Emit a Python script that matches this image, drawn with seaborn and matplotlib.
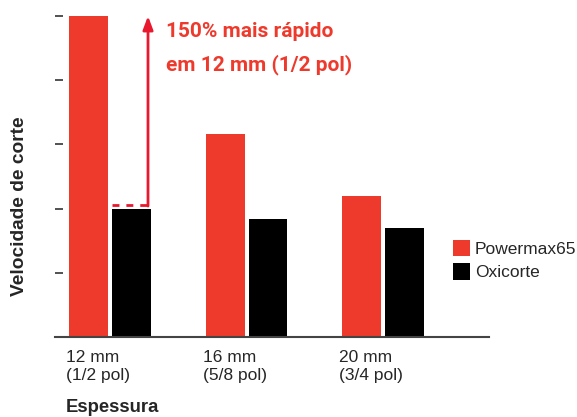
import numpy as np
import pandas as pd
import matplotlib
matplotlib.use("Agg")
import matplotlib.pyplot as plt
import matplotlib.transforms as mtransforms
import seaborn as sns

# data (arbitrary speed units, axis has no labels)
categories = ["12 mm\n(1/2 pol)", "16 mm\n(5/8 pol)", "20 mm\n(3/4 pol)"]
series = ["Powermax65", "Oxicorte"]
powermax = [5.0, 3.16, 2.2]
oxicorte = [2.0, 1.84, 1.70]
yticks = [1, 2, 3, 4, 5]

RED = "#EE3A2C"
ARROW = "#E8192E"

df = pd.DataFrame({
    "espessura": categories * 2,
    "sistema": [series[0]] * 3 + [series[1]] * 3,
    "velocidade": powermax + oxicorte,
})

sns.set_style("white")
plt.rcParams["font.family"] = ["Liberation Sans", "DejaVu Sans"]

fig = plt.figure(figsize=(5.77, 4.17), dpi=100)
ax = fig.add_axes([55 / 577, 80 / 417, 434 / 577, 321 / 417])

sns.barplot(data=df, x="espessura", y="velocidade", hue="sistema",
            palette=[RED, "black"], width=0.628, gap=0.093,
            saturation=1, linewidth=0, ax=ax, legend=True)

ax.set_xlim(-0.401, 2.774)
ax.set_ylim(0, 5)
ax.set_yticks(yticks)
ax.set_yticklabels([])
ax.tick_params(axis="y", direction="in", length=5.8, width=1.2, color="#333333", left=True)
ax.tick_params(axis="x", length=0, pad=9, labelsize=12.5)
for s in ["top", "right", "left"]:
    ax.spines[s].set_visible(False)
ax.spines["bottom"].set_color("#444444")
ax.spines["bottom"].set_linewidth(1.5)
ax.set_xlabel("")
ax.set_ylabel("")

# left-aligned two-line tick labels
offset = mtransforms.ScaledTranslation(-44 / 100, 0, fig.dpi_scale_trans)
for lab in ax.get_xticklabels():
    lab.set_horizontalalignment("left")
    lab.set_multialignment("left")
    lab.set_linespacing(1.3)
    lab.set_transform(lab.get_transform() + offset)

# legend
handles, labels = ax.get_legend_handles_labels()
ax.legend(handles, labels, loc="center left", bbox_to_anchor=(0.917, 0.24),
          frameon=False, fontsize=12.5, handlelength=1.0, handleheight=1.1,
          handletextpad=0.25, labelspacing=0.35, borderaxespad=0, borderpad=0)

# annotation: dashed line from the Oxicorte bar top, arrow up to Powermax top
ox_bar = ax.containers[1].patches[0]
x0 = ox_bar.get_x()
x1 = ox_bar.get_x() + ox_bar.get_width() - 0.02
y0 = oxicorte[0] + 0.05
ax.plot([x0, x1], [y0, y0], color=ARROW, lw=2, ls=(0, (2.5, 2.5)),
        solid_capstyle="butt", clip_on=False)
ax.annotate("", xy=(x1, powermax[0]), xytext=(x1, y0 - 0.01),
            arrowprops=dict(arrowstyle="-|>,head_length=0.8,head_width=0.3",
                            color=ARROW, lw=2, shrinkA=0, shrinkB=0),
            annotation_clip=False)
ax.text(x1 + 0.13, powermax[0] - 0.1, "150% mais rápido\nem 12 mm (1/2 pol)",
        color=RED, fontsize=15, fontweight="bold", va="top", ha="left",
        linespacing=1.8, family=["Roboto", "DejaVu Sans"])

fig.text(20 / 577, 1 - 206 / 417, "Velocidade de corte", rotation=90,
         fontsize=13.8, fontweight="bold", ha="center", va="center")
fig.text(66 / 577, 1 - 408 / 417, "Espessura", fontsize=13.3,
         fontweight="bold", ha="left", va="center")

fig.savefig("out.png", dpi=100)
